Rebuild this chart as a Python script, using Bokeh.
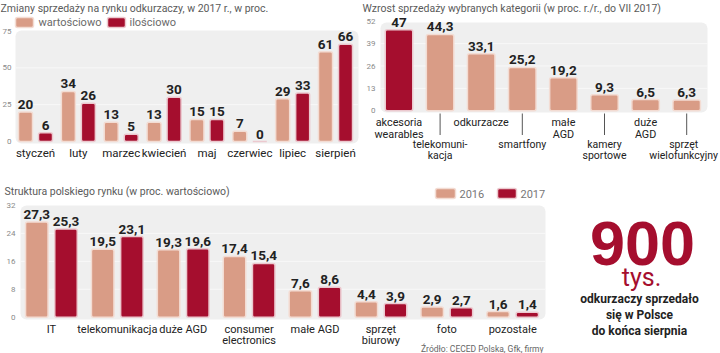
from bokeh.plotting import figure
from bokeh.models import Range1d, ColumnDataSource
from bokeh.transform import dodge
from bokeh.core.properties import value
from bokeh.embed import file_html
from bokeh.resources import INLINE

# ---------------- data ----------------
months = ["styczeń", "luty", "marzec", "kwiecień", "maj", "czerwiec", "lipiec", "sierpień"]
vacuum_value = [20, 34, 13, 13, 15, 7, 29, 61]
vacuum_volume = [6, 26, 5, 30, 15, 0, 33, 66]
ticks1 = [0, 25, 50, 75]

cats2 = ["akcesoria\nwearables", "telekomuni-\nkacja", "odkurzacze", "smartfony",
         "małe\nAGD", "kamery\nsportowe", "duże\nAGD", "sprzęt\nwielofunkcyjny"]
growth = [47, 44.3, 33.1, 25.2, 19.2, 9.3, 6.5, 6.3]
ticks2 = [0, 13, 26, 39, 52]

cats3 = ["IT", "telekomunikacja", "duże AGD", "consumer\nelectronics", "małe AGD",
         "sprzęt\nbiurowy", "foto", "pozostałe"]
share_2016 = [27.3, 19.5, 19.3, 17.4, 7.6, 4.4, 2.9, 1.6]
share_2017 = [25.3, 23.1, 19.6, 15.4, 8.6, 3.9, 2.7, 1.4]
ticks3 = [0, 8, 16, 24, 32]

big_number = "900"
big_unit = "tys."
big_caption = ["odkurzaczy sprzedało", "się w Polsce", "do końca sierpnia"]

# ---------------- style ----------------
W, H = 720, 353
SALMON = "#d99c86"
RED = "#a50e2e"
HALO_S = "#f3dcd3"
HALO_R = "#ecc9cf"
PANEL = "#efefef"
F = value("Roboto")
SANS = value("Liberation Sans")
TXT = "#222222"
GREY = "#5a5a5a"


def fmt(v):
    return str(v).replace(".", ",")


def xr(px0, step):
    return Range1d(start=(0 - px0) / step, end=(W - px0) / step)


def yr(px0, scale):
    return Range1d(start=(px0 - H) / scale, end=px0 / scale)


p = figure(width=W, height=H, x_range=Range1d(0, W), y_range=Range1d(H, 0),
           output_backend="svg", toolbar_location=None, min_border=0,
           x_axis_location=None, y_axis_location=None, outline_line_color=None,
           background_fill_color="white", border_fill_color="white")
p.grid.visible = False

p.extra_x_ranges["c1"] = xr(35.0, 42.86)
p.extra_y_ranges["v1"] = yr(141.0, 110.5 / 75)
p.extra_x_ranges["c2"] = xr(398.5, 41.1)
p.extra_y_ranges["v2"] = yr(110.3, 89.6 / 52)
p.extra_x_ranges["c3"] = xr(50.9, 65.9)
p.extra_y_ranges["v3"] = yr(316.7, 111.7 / 32)

# ---------------- panels ----------------
p.quad(left=[15, 380, 20], right=[358, 707, 545], top=[30, 22, 205], bottom=[143, 112, 319],
       fill_color=PANEL, line_color=None, border_radius=6)

LBL = dict(text_align="center", text_baseline="bottom", text_font=F, text_font_style="bold",
           text_font_size="13.5px", text_color=TXT, y_offset=-3)
TICK = dict(text_align="right", text_baseline="middle", text_font=F, text_font_size="8px",
            text_color="#8a8a8a")
TITLE = dict(text_align="left", text_baseline="middle", text_font=F, text_font_size="10.5px",
             text_color=GREY)

# ---------------- chart 1 ----------------
s1 = ColumnDataSource(dict(i=list(range(len(months))), m=months, a=vacuum_value, b=vacuum_volume,
                           la=[fmt(v) for v in vacuum_value], lb=[fmt(v) for v in vacuum_volume]))
for t in ticks1[1:-1]:
    p.segment(x0=15, x1=358, y0=t, y1=t, y_range_name="v1", line_color="#f8f8f8", line_width=1)
off1, w1 = 10 / 42.86, 14 / 42.86
p.vbar(x=dodge("i", -off1), top="a", bottom=0, width=w1, source=s1, x_range_name="c1", y_range_name="v1",
       fill_color=SALMON, line_color=HALO_S, line_width=1.5, border_radius=2)
p.vbar(x=dodge("i", off1), top="b", bottom=0, width=w1, source=s1, x_range_name="c1", y_range_name="v1",
       fill_color=RED, line_color=HALO_R, line_width=1.5, border_radius=2)
p.text(x=dodge("i", -off1), y="a", text="la", source=s1, x_range_name="c1", y_range_name="v1", **LBL)
p.text(x=dodge("i", off1), y="b", text="lb", source=s1, x_range_name="c1", y_range_name="v1", **LBL)
p.text(x="i", y=145, text="m", source=s1, x_range_name="c1", text_align="center",
       text_baseline="top", text_font=F, text_font_size="11.5px", text_color=TXT)
p.text(x=11, y=ticks1, text=[str(t) for t in ticks1], y_range_name="v1", **TICK)
p.text(x=0, y=8, text=["Zmiany sprzedaży na rynku odkurzaczy, w 2017 r., w proc."], **TITLE)
p.quad(left=[15, 107], right=[33, 125], top=[17, 17], bottom=[27, 27], fill_color=[SALMON, RED],
       line_color=[HALO_S, HALO_R], line_width=1.5, border_radius=2)
p.text(x=[38, 129], y=[22, 22], text=["wartościowo", "ilościowo"], text_baseline="middle",
       text_font=F, text_font_size="11px", text_color="#6a6a6a")

# ---------------- chart 2 ----------------
colors2 = [RED] + [SALMON] * (len(growth) - 1)
halos2 = [HALO_R] + [HALO_S] * (len(growth) - 1)
s2 = ColumnDataSource(dict(i=list(range(len(growth))), v=growth, l=[fmt(v) for v in growth],
                           c=colors2, h=halos2))
for t in ticks2[1:-1]:
    p.segment(x0=380, x1=707, y0=t, y1=t, y_range_name="v2", line_color="#f8f8f8", line_width=1)
p.vbar(x="i", top="v", bottom=0, width=27.5 / 41.1, source=s2, x_range_name="c2", y_range_name="v2",
       fill_color="c", line_color="h", line_width=1.5, border_radius=2)
p.text(x="i", y="v", text="l", source=s2, x_range_name="c2", y_range_name="v2", **LBL)
up = [i for i in range(len(cats2)) if i % 2 == 0]
lo = [i for i in range(len(cats2)) if i % 2 == 1]
p.text(x=up, y=[115.5] * len(up), text=[cats2[i] for i in up], x_range_name="c2", text_align="center",
       text_baseline="top", text_font=F, text_font_size="10.8px", text_color=TXT, text_line_height=0.9)
p.text(x=lo, y=[137] * len(lo), text=[cats2[i] for i in lo], x_range_name="c2", text_align="center",
       x_offset=[0, 0, 0, -3],
       text_baseline="top", text_font=F, text_font_size="10.5px", text_color=TXT, text_line_height=0.9)
p.segment(x0=lo, x1=lo, y0=[113] * len(lo), y1=[134.5] * len(lo), x_range_name="c2",
          line_color="#555555", line_width=1)
p.text(x=375, y=ticks2, text=[str(t) for t in ticks2], y_range_name="v2", **TICK)
p.text(x=362, y=8, text=["Wzrost sprzedaży wybranych kategorii (w proc. r./r., do VII 2017)"], **TITLE)

# ---------------- chart 3 ----------------
s3 = ColumnDataSource(dict(i=list(range(len(cats3))), c=cats3, a=share_2016, b=share_2017,
                           la=[fmt(v) for v in share_2016], lb=[fmt(v) for v in share_2017]))
for t in ticks3[1:-1]:
    p.segment(x0=20, x1=545, y0=t, y1=t, y_range_name="v3", line_color="#f8f8f8", line_width=1)
off3, w3 = 14.6 / 65.9, 22.5 / 65.9
p.vbar(x=dodge("i", -off3), top="a", bottom=0, width=w3, source=s3, x_range_name="c3", y_range_name="v3",
       fill_color=SALMON, line_color=HALO_S, line_width=1.5, border_radius=2)
p.vbar(x=dodge("i", off3), top="b", bottom=0, width=w3, source=s3, x_range_name="c3", y_range_name="v3",
       fill_color=RED, line_color=HALO_R, line_width=1.5, border_radius=2)
p.text(x=dodge("i", -off3), y="a", text="la", source=s3, x_range_name="c3", y_range_name="v3", **LBL)
p.text(x=dodge("i", off3), y="b", text="lb", source=s3, x_range_name="c3", y_range_name="v3", **LBL)
p.text(x="i", y=322, text="c", source=s3, x_range_name="c3", text_align="center",
       text_baseline="top", text_font=F, text_font_size="11px", text_color=TXT, text_line_height=0.85)
p.text(x=15, y=ticks3, text=[str(t) for t in ticks3], y_range_name="v3", **TICK)
p.text(x=4, y=191, text=["Struktura polskiego rynku (w proc. wartościowo)"], **TITLE)
p.quad(left=[435, 497], right=[455, 516], top=[188, 188], bottom=[198, 198], fill_color=[SALMON, RED],
       line_color=[HALO_S, HALO_R], line_width=1.5, border_radius=2)
p.text(x=[459, 520], y=[193, 193], text=["2016", "2017"], text_baseline="middle",
       text_font=F, text_font_size="11px", text_color="#777777")
p.text(x=543, y=348, text=["Źródło: CECED Polska, Gfk, firmy"], text_align="right",
       text_baseline="middle", text_font=F, text_font_size="8.5px", text_color="#666666")

# ---------------- big number ----------------
p.text(x=642, y=243, text=[big_number], text_align="center", text_baseline="alphabetic",
       text_font=SANS, text_font_style="bold", text_font_size="63px", text_color=RED)
p.text(x=641, y=277, text=[big_unit], text_align="center", text_baseline="alphabetic",
       text_font=F, text_font_size="25px", text_color=RED)
p.text(x=[639] * 3, y=[298, 314, 330], text=big_caption, text_align="center",
       text_baseline="alphabetic", text_font=F, text_font_style="bold",
       text_font_size="12px", text_color=TXT)

open("out.html", "w").write(file_html(p, INLINE))
